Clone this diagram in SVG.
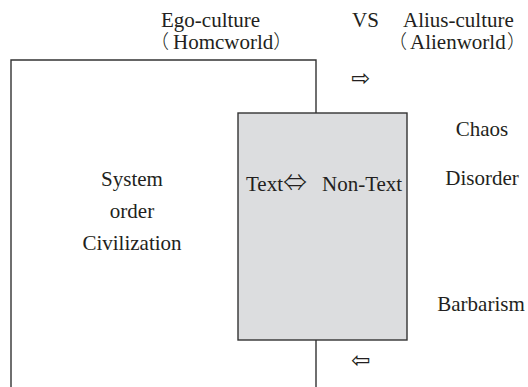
<svg xmlns="http://www.w3.org/2000/svg" width="528" height="387" viewBox="0 0 528 387">
<style>
.t{font-family:'Liberation Serif',serif;font-size:21px;fill:#231f20}
.c{text-anchor:middle}
.p{font-family:'Noto Sans CJK SC',sans-serif;font-weight:300;font-size:19px}
.ln{fill:none;stroke:#333;stroke-width:1.4}
.ar{font-family:'DejaVu Sans',sans-serif;font-size:23px;fill:#231f20;text-anchor:middle}
</style>
<rect width="528" height="387" fill="#fff"/>
<g id="header">
<text class="t" x="161" y="27">Ego-culture</text>
<text class="t" x="150" y="49"><tspan class="p">（</tspan><tspan x="173">Homcworld</tspan><tspan class="p">）</tspan></text>
<text class="t" x="352" y="27">VS</text>
<text class="t" x="403" y="27">Alius-culture</text>
<text class="t" x="388" y="49"><tspan class="p">（</tspan><tspan x="410">Alienworld</tspan><tspan class="p" x="507">）</tspan></text>
</g>
<g id="egoculture">
<path class="ln" d="M11,387 V60 H316 V113 M316,340 V387"/>
<text class="t c" x="132" y="186">System</text>
<text class="t c" x="132" y="218">order</text>
<text class="t c" x="132" y="250">Civilization</text>
</g>
<g id="textbox">
<rect x="238" y="113" width="169" height="227" fill="#dcdddf" stroke="#333" stroke-width="1.4"/>
<text class="t" x="246" y="191">Text<tspan class="p" x="283" style="font-size:24px">⇔</tspan><tspan x="322">Non-Text</tspan></text>
</g>
<g id="aliusculture">
<text class="t c" x="482" y="136">Chaos</text>
<text class="t c" x="482" y="185">Disorder</text>
<text class="t c" x="481" y="311">Barbarism</text>
</g>
<g id="connectors">
<text class="ar" x="361" y="86">⇨</text>
<text class="ar" x="361" y="368">⇦</text>
</g>
</svg>
